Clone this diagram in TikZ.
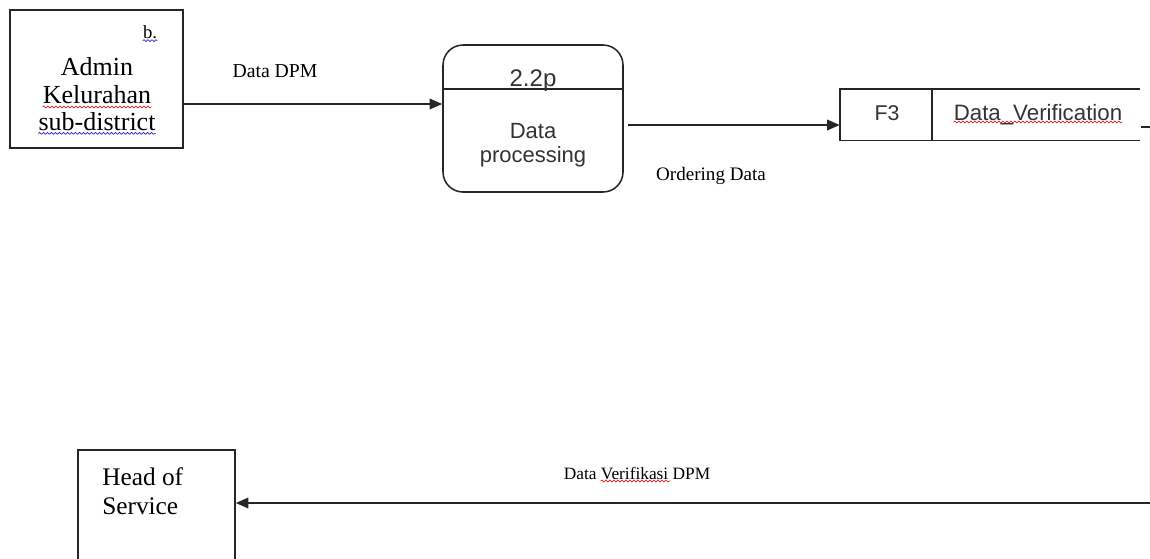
\documentclass[tikz,border=0pt]{standalone}
\usepackage{fontspec}
\setmainfont{Liberation Serif}
\setsansfont{Liberation Sans}
\usetikzlibrary{arrows.meta,decorations.pathmorphing}
\begin{document}
\begin{tikzpicture}[x=0.75pt,y=-0.75pt,
  line/.style={line width=1.15pt, draw=black!85},
  arr/.style={line, -{Triangle[length=9.5pt,width=8pt]}},
  serif/.style={inner sep=0pt, anchor=base, font=\fontsize{#1}{#1}\selectfont},
  sans/.style={inner sep=0pt, anchor=base, font=\sffamily\fontsize{#1}{#1}\selectfont, text=black!80},
  squig/.style={line width=0.5pt, decorate, decoration={snake, amplitude=0.7pt, segment length=3pt}},
  redsq/.style={squig, draw={rgb,255:red,220;green,30;blue,30}},
  bluesq/.style={squig, draw={rgb,255:red,40;green,40;blue,200}}
]
\useasboundingbox (0,0) rectangle (1150,558);
\clip (0,0) rectangle (1150,558);

% external entity: Admin
\node[line, minimum width=129.75pt, minimum height=103.5pt, inner sep=0pt] (admin) at (96.5,79) {};
\node[serif=14] (b) at (150,38) {b.};
\node[serif=19.5] (a1) at (97,75) {Admin};
\node[serif=19.5] (a2) at (97,103) {Kelurahan};
\node[serif=19.5] (a3) at (97,130) {sub-district};
\draw[bluesq] ([yshift=-2pt]b.base west) -- ([yshift=-2pt]b.base east);
\draw[redsq] ([yshift=-3pt]a2.base west) -- ([yshift=-3pt]a2.base east);
\draw[bluesq] ([yshift=-2.5pt]a3.base west) -- ([yshift=-2.5pt]a3.base east);

% process
\node[line, rounded corners=15pt, minimum width=135pt, minimum height=110.25pt, inner sep=0pt] (proc) at (533,118.5) {};
\coordinate (pd) at (0,89);
\draw[line] (proc.west |- pd) -- (proc.east |- pd);
\node[sans=18] (pid) at (533,86) {2.2p};
\node[sans=16.5] (p1) at (533,138) {Data};
\node[sans=16.5] (p2) at (533,162) {processing};

% data store
\node[inner sep=0pt, minimum width=225pt, minimum height=38.25pt] (store) at (990,114.5) {};
\draw[line] (store.north east) -- (store.north west) -- (store.south west) -- (store.south east);
\coordinate (sdx) at (932,0);
\draw[line] (sdx |- store.north) -- (sdx |- store.south);
\node[sans=16] (f3) at (887,120) {F3};
\node[sans=16.7] (dv) at (1038,120) {Data\_Verification};
\draw[redsq] ([yshift=-1.5pt]dv.base west) -- ([yshift=-1.5pt]dv.base east);

% head of service
\node[line, minimum width=117.75pt, minimum height=112.5pt, inner sep=0pt] (head) at (156.5,525) {};
\node[serif=19, anchor=base west] (h1) at (102,485) {Head of};
\node[serif=19, anchor=base west] (h2) at (102,514) {Service};

% connectors
\coordinate (dy) at (0,104);
\draw[arr] (admin.east |- dy) -- (proc.west |- dy);
\node[serif=14.8] (l1) at (275,77) {Data DPM};

\coordinate (oy) at (0,125);
\coordinate (pe) at ([xshift=3pt]proc.east);
\draw[arr] (pe |- oy) -- (store.west |- oy);
\node[serif=14.3] (l2) at (711,180) {Ordering Data};

\coordinate (cut1) at (1141,127);
\coordinate (cut2) at (1150,127);
\draw[line] (cut1) -- (cut2);
\coordinate (vtop) at (1149,130);
\coordinate (vbot) at (1149,500);
\draw[black!6, line width=0.6pt] (vtop) -- (vbot);

\coordinate (re) at (1150,503);
\draw[arr] (re) -- (re -| head.east);
\node[serif=13] (l3) at (637,479) {Data Verifikasi DPM};
\draw[redsq] ([xshift=27.8pt,yshift=-1.5pt]l3.base west) -- ([xshift=79.8pt,yshift=-1.5pt]l3.base west);
\end{tikzpicture}
\end{document}
